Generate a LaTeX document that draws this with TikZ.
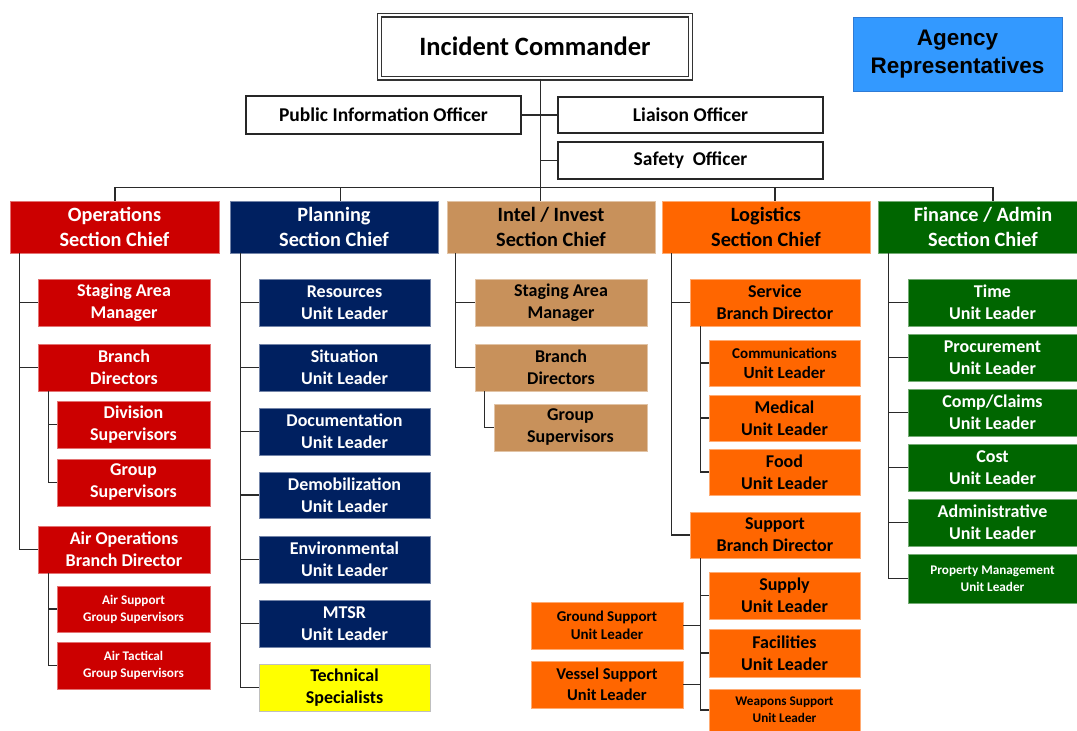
\documentclass[tikz,border=0pt]{standalone}
\usepackage{fontspec}
\setmainfont{Carlito}
\newfontfamily\arialfont{Liberation Sans}
\definecolor{cOps}{HTML}{CC0000}
\definecolor{cPln}{HTML}{002060}
\definecolor{cInt}{HTML}{C8915B}
\definecolor{cLog}{HTML}{FF6600}
\definecolor{cFin}{HTML}{006600}
\definecolor{cTech}{HTML}{FFFF00}
\definecolor{cAgy}{HTML}{3399FF}
\definecolor{cAgyD}{HTML}{2E7BD6}
\definecolor{cLine}{HTML}{2A2A2A}
\newcommand\fsz[2]{\fontsize{#1}{#2}\selectfont}
\newcommand\bx[7]{\node[#2, minimum width={#5-#3}, minimum height={#6-#4}] (#1) at ({(#3+#5)/2},{(#4+#6)/2}) {#7};}
\tikzset{
  box/.style={rectangle, inner sep=0pt, align=center, line width=0.7pt},
  wbox/.style={box, draw=black!85, fill=white, line width=1.1pt, font=\bfseries\fsz{19.5}{24}},
  chief/.style={box, font=\bfseries\fsz{20.3}{25}},
  child/.style={box, font=\bfseries\fsz{18}{22}},
  small/.style={font=\bfseries\fsz{13.2}{17}},
  opsc/.style={fill=cOps, draw=cOps!55!white, text=white},
  plnc/.style={fill=cPln, draw=cPln!55!white, text=white},
  intc/.style={fill=cInt, draw=cInt!55!white, text=black},
  logc/.style={fill=cLog, draw=cLog!55!white, text=black},
  finc/.style={fill=cFin, draw=cFin!55!white, text=white},
  techc/.style={fill=cTech, draw=black!25, text=black},
  conn/.style={draw=cLine, line width=1.2pt},
}
\begin{document}
\begin{tikzpicture}[x=1pt,y=-1pt]
\useasboundingbox (0,0) rectangle (1077,731);
% top
\node[box, draw=black!80, double, double distance=2.3pt, line width=1.5pt, fill=white,
      minimum width=311, minimum height=63, font=\bfseries\fsz{26.5}{30}] (ic) at (535,46.7) {Incident Commander};
\bx{agy}{box, fill=cAgy, draw=cAgyD, line width=1pt, font=\arialfont\bfseries\fsz{22.5}{27.5}}{853}{17}{1062}{91}{Agency\\Representatives}
\bx{pio}{wbox}{246}{96}{521}{134}{Public Information Officer}
\bx{lia}{wbox}{558}{97}{823}{133}{Liaison Officer}
\bx{saf}{wbox}{558}{142}{823}{179}{Safety\ \ Officer}
% operations
\bx{ops}{chief,opsc}{10}{201}{219}{253}{Operations\\Section Chief}
\bx{osam}{child,opsc}{38}{279}{210}{326}{Staging Area\\Manager}
\bx{obd}{child,opsc}{38}{344}{210}{391}{Branch\\Directors}
\bx{odiv}{child,opsc}{57}{401}{210}{448}{Division\\Supervisors}
\bx{ogrp}{child,opsc}{57}{459}{210}{506}{Group\\Supervisors}
\bx{oair}{child,opsc}{38}{526}{210}{573}{Air Operations\\Branch Director}
\bx{oas}{child,small,opsc}{57}{586}{210}{632}{Air Support\\Group Supervisors}
\bx{oat}{child,small,opsc}{57}{642}{210}{689}{Air Tactical\\Group Supervisors}
% planning
\bx{pln}{chief,plnc}{230}{201}{438}{253}{Planning\\Section Chief}
\bx{pres}{child,plnc}{259}{279}{430}{326}{Resources\\Unit Leader}
\bx{psit}{child,plnc}{259}{344}{430}{391}{Situation\\Unit Leader}
\bx{pdoc}{child,plnc}{259}{408}{430}{455}{Documentation\\Unit Leader}
\bx{pdem}{child,plnc}{259}{472}{430}{518}{Demobilization\\Unit Leader}
\bx{penv}{child,plnc}{259}{536}{430}{583}{Environmental\\Unit Leader}
\bx{pmtsr}{child,plnc}{259}{600}{430}{647}{MTSR\\Unit Leader}
\bx{ptech}{child,techc}{259}{664}{430}{711}{Technical\\Specialists}
% intel
\bx{int}{chief,intc}{447}{201}{655}{253}{Intel / Invest\\Section Chief}
\bx{isam}{child,intc}{475}{279}{647}{326}{Staging Area\\Manager}
\bx{ibd}{child,intc}{475}{344}{647}{391}{Branch\\Directors}
\bx{igrp}{child,intc}{494}{404}{647}{451}{Group\\Supervisors}
% logistics
\bx{log}{chief,logc}{662}{201}{870}{253}{Logistics\\Section Chief}
\bx{lsvc}{child,logc}{690}{279}{860}{326}{Service\\Branch Director}
\bx{lcom}{child,logc,font=\bfseries\fsz{17}{20}}{709}{340}{860}{386}{{\fsz{15}{19}Communications}\\Unit Leader}
\bx{lmed}{child,logc}{709}{395}{860}{441}{Medical\\Unit Leader}
\bx{lfood}{child,logc}{709}{449}{860}{495}{Food\\Unit Leader}
\bx{lsup}{child,logc}{690}{512}{860}{558}{Support\\Branch Director}
\bx{lsply}{child,logc}{709}{572}{860}{619}{Supply\\Unit Leader}
\bx{lfac}{child,logc}{709}{629}{860}{677}{Facilities\\Unit Leader}
\bx{lweap}{child,small,logc}{709}{689}{860}{731}{Weapons Support\\Unit Leader}
\bx{lgnd}{child,logc,font=\bfseries\fsz{15}{18.5}}{531}{602}{683}{649}{Ground Support\\Unit Leader}
\bx{lves}{child,logc,font=\bfseries\fsz{16.5}{21.5}}{531}{661}{683}{708}{Vessel Support\\Unit Leader}
% finance
\bx{fin}{chief,finc}{878}{201}{1088}{253}{Finance / Admin\\Section Chief}
\bx{ftime}{child,finc}{908}{279}{1077}{326}{Time\\Unit Leader}
\bx{fproc}{child,finc}{908}{334}{1077}{381}{Procurement\\Unit Leader}
\bx{fcomp}{child,finc}{908}{389}{1077}{436}{Comp/Claims\\Unit Leader}
\bx{fcost}{child,finc}{908}{444}{1077}{491}{Cost\\Unit Leader}
\bx{fadm}{child,finc}{908}{499}{1077}{546}{Administrative\\Unit Leader}
\bx{fprop}{child,small,finc}{908}{554}{1077}{603}{Property Management\\Unit Leader}
% connectors: top
\coordinate (icS) at ([xshift=5.5]ic.south);
\draw[conn] (icS) -- (icS |- int.north);
\draw[conn] (pio.east) -- (pio.east -| icS);
\draw[conn] (lia.west -| icS) -- (lia.west);
\draw[conn] (saf.west -| icS) -- (saf.west);
\draw[conn] ([xshift=0.5]ops.north) -- ++(0,-13) -| ([xshift=10]fin.north);
\draw[conn] ([xshift=6.5]pln.north) -- ++(0,-13);
\draw[conn] ([xshift=9]log.north) -- ++(0,-13);
% operations
\coordinate (opsS) at ([xshift=9.5]ops.south west);
\draw[conn] (opsS) |- (oair.west);
\draw[conn] (opsS |- osam.west) -- (osam.west);
\draw[conn] (opsS |- obd.west) -- (obd.west);
\coordinate (obdS) at ([xshift=11]obd.south west);
\draw[conn] (obdS) |- (ogrp.west);
\draw[conn] (obdS |- odiv.west) -- (odiv.west);
\coordinate (oairS) at ([xshift=11]oair.south west);
\draw[conn] (oairS) |- (oat.west);
\draw[conn] (oairS |- oas.west) -- (oas.west);
% planning
\coordinate (plnS) at ([xshift=11]pln.south west);
\draw[conn] (plnS) |- (ptech.west);
\foreach \n in {pres,psit,pdoc,pdem,penv,pmtsr} \draw[conn] (plnS |- \n.west) -- (\n.west);
% intel
\coordinate (intS) at ([xshift=9]int.south west);
\draw[conn] (intS) |- (ibd.west);
\draw[conn] (intS |- isam.west) -- (isam.west);
\coordinate (ibdS) at ([xshift=10]ibd.south west);
\draw[conn] (ibdS) |- (igrp.west);
% logistics
\coordinate (logS) at ([xshift=9.5]log.south west);
\draw[conn] (logS) |- (lsup.west);
\draw[conn] (logS |- lsvc.west) -- (lsvc.west);
\coordinate (svcS) at ([xshift=11]lsvc.south west);
\draw[conn] (svcS) |- (lfood.west);
\foreach \n in {lcom,lmed} \draw[conn] (svcS |- \n.west) -- (\n.west);
\coordinate (supS) at ([xshift=11]lsup.south west);
\draw[conn] (supS) |- (lweap.west);
\foreach \n in {lsply,lfac} \draw[conn] (supS |- \n.west) -- (\n.west);
\draw[conn] (lgnd.east) -- (lgnd.east -| supS);
\draw[conn] (lves.east) -- (lves.east -| supS);
% finance
\coordinate (finS) at ([xshift=11]fin.south west);
\draw[conn] (finS) |- (fprop.west);
\foreach \n in {ftime,fproc,fcomp,fcost,fadm} \draw[conn] (finS |- \n.west) -- (\n.west);
\end{tikzpicture}
\end{document}
